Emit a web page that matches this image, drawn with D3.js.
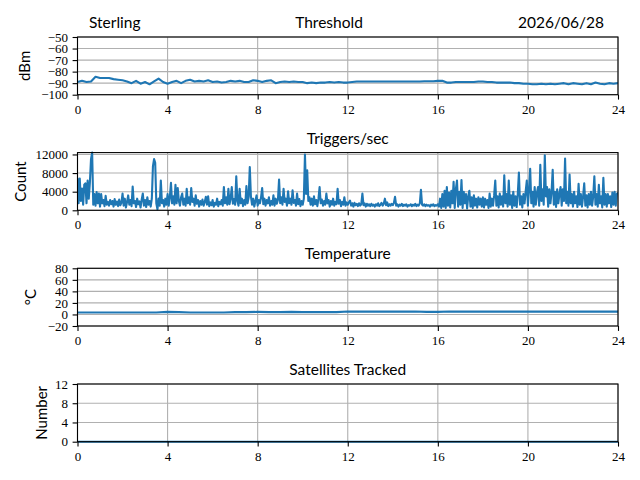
<!DOCTYPE html>
<html>
<head>
<meta charset="utf-8">
<script src="https://cdn.jsdelivr.net/npm/d3@7"></script>
<style>
  html, body { margin: 0; padding: 0; background: #fff; }
  svg { display: block; }
  svg text.tk { font-family: 'Liberation Serif', 'DejaVu Serif', serif !important; font-size: 13px !important; }
</style>
</head>
<body>
<svg id="chart" width="640" height="480"></svg>
<script>
// ---------------- DATA ----------------
const hourTicks = [0, 4, 8, 12, 16, 20, 24];

const headerLeft = "Sterling";
const headerCenter = "Threshold";
const headerRight = "2026/06/28";

const panelTitles = ["", "Triggers/sec", "Temperature", "Satellites Tracked"];
const panelYLabels = ["dBm", "Count", "°C", "Number"];

const thresholdTicks = [-50, -60, -70, -80, -90, -100];
const triggerTicks = [0, 4000, 8000, 12000];
const temperatureTicks = [80, 60, 40, 20, 0, -20];
const satelliteTicks = [0, 4, 8, 12];

// Threshold (dBm), one reading every 0.2 h from 0 to 24 h
const thresholdValues = [
  -89, -88, -89, -88.5, -84.5, -85.5, -85.5, -85.5, -86.5, -87,
  -87.5, -88.5, -90, -88, -90.5, -89, -91, -88.5, -86, -89,
  -90.5, -89, -88, -90, -88, -87, -88.5, -88, -88.5, -87.5,
  -89, -88.5, -89.5, -89, -88, -88.5, -88, -89, -89, -87.5,
  -88, -89, -88, -87.5, -90, -89, -88.5, -89, -88.5, -89,
  -89, -90, -89.5, -90, -89.5, -89.5, -89, -89.5, -89, -89.5,
  -89.5, -89, -88.5, -88.5, -88.5, -88.5, -88.5, -88.5, -88.5, -88.5,
  -88.5, -88.5, -88.5, -88.5, -88.5, -88.5, -88.5, -88.3, -88.3, -88.3,
  -88, -88, -89.5, -89.5, -89, -89, -89, -89, -89, -88.5,
  -88.5, -89, -89, -89.5, -89.5, -89.5, -89.5, -90, -90, -90.5,
  -90.5, -91, -91, -90.5, -91, -90.5, -91, -90.5, -90, -91,
  -90, -90.5, -91, -90, -91, -89.5, -90.5, -91, -90, -90.5,
  -90
];

// Triggers/sec (counts), one reading every 0.05 h from 0 to 24 h
const triggerValues = [
  // 0 h
  7000, 1500, 6800, 2000, 4700, 1200, 5500, 5800, 1500, 6400, 2500, 6000, 11000, 12400, 1200, 3500, 1000, 3900, 1500, 3600,
  // 1 h
  800, 3500, 1500, 2200, 900, 3100, 1200, 1800, 1000, 2200, 1300, 2000, 800, 2400, 1200, 1900, 900, 2300, 1100, 1600,
  // 2 h
  3600, 1000, 2500, 600, 1800, 3200, 1200, 2200, 900, 5100, 1500, 2000, 700, 2500, 1300, 1900, 600, 2300, 3600, 1000,
  // 3 h
  2200, 700, 2800, 1200, 2000, 800, 2500, 9500, 11000, 10200, 1500, 200, 2500, 1000, 6400, 1500, 2200, 800, 2500, 1200,
  // 4 h
  3500, 1000, 2800, 5900, 1500, 3000, 1200, 5500, 1500, 4800, 2000, 1000, 2800, 3600, 1200, 2500, 1000, 4600, 1500, 2800,
  // 5 h
  1200, 4800, 1800, 2500, 1000, 3200, 1400, 2200, 800, 2000, 1200, 2300, 1000, 1800, 2900, 1200, 3000, 900, 1700, 1100,
  // 6 h
  2200, 800, 1600, 1200, 2500, 900, 1800, 1300, 2200, 1000, 5000, 1500, 2800, 1200, 4600, 1300, 2500, 5000, 1400, 2400,
  // 7 h
  1200, 7300, 2000, 1000, 4600, 1500, 2500, 900, 2200, 1200, 5200, 1500, 2800, 9300, 3000, 1200, 2500, 800, 2000, 3200,
  // 8 h
  1000, 2200, 1500, 2800, 4800, 1300, 2500, 1000, 2200, 1500, 2800, 1000, 2000, 1200, 3200, 1000, 2500, 1400, 2200, 6600,
  // 9 h
  1500, 2800, 1200, 4600, 1800, 2500, 1000, 4100, 1500, 2500, 1200, 4300, 1600, 2200, 1000, 3600, 1300, 2400, 900, 2000,
  // 10 h
  1200, 2500, 12000, 3500, 8600, 2000, 2800, 1200, 2500, 1000, 3000, 1300, 2200, 900, 2500, 5000, 1500, 2300, 1000, 2000,
  // 11 h
  1200, 3600, 1500, 2200, 800, 2000, 1200, 2500, 1000, 1800, 1300, 4600, 1400, 2200, 900, 1800, 1200, 2800, 1000, 1700,
  // 12 h
  1200, 1700, 2100, 1000, 1500, 800, 1600, 1100, 1400, 900, 1500, 1000, 1300, 3600, 1100, 1500, 800, 1400, 1000, 1300,
  // 13 h
  900, 1400, 1000, 1200, 800, 1300, 1000, 1500, 900, 1200, 1600, 1000, 1400, 2500, 1100, 1700, 900, 1300, 1000, 1400,
  // 14 h
  1100, 1600, 2900, 1000, 1300, 800, 1200, 1000, 1400, 900, 1200, 1000, 1300, 800, 1100, 1000, 1300, 900, 1200, 1000,
  // 15 h
  1400, 900, 1200, 1000, 1500, 4400, 1200, 1000, 1300, 900, 1200, 1000, 1100, 800, 1200, 1000, 1300, 900, 1100, 1000,
  // 16 h
  1300, 800, 2500, 500, 3500, 800, 4200, 500, 5000, 1000, 3800, 600, 4200, 1500, 6100, 500, 4500, 6400, 800, 4000,
  // 17 h
  1200, 6500, 500, 4000, 1500, 3500, 400, 3000, 4200, 800, 2800, 500, 3200, 1000, 2500, 600, 2800, 1200, 2500, 800,
  // 18 h
  2800, 600, 2500, 1200, 2200, 500, 3600, 800, 2500, 1000, 3200, 6400, 1000, 3000, 600, 3600, 1200, 3000, 800, 7500,
  // 19 h
  1500, 3500, 800, 6400, 1200, 3200, 500, 4000, 1000, 3000, 700, 3500, 8100, 1200, 3000, 600, 3500, 1500, 4000, 6400,
  // 20 h
  1000, 4500, 8900, 1500, 4000, 800, 5000, 1200, 3800, 5000, 1000, 9800, 2000, 4500, 1200, 11800, 3000, 5000, 800, 4500,
  // 21 h
  1500, 4000, 8700, 1200, 4000, 700, 4500, 1500, 3500, 5000, 1000, 4500, 2000, 11100, 1500, 4000, 1000, 7700, 1500, 3500,
  // 22 h
  800, 4000, 1500, 3000, 700, 5700, 1200, 3500, 800, 3000, 5800, 1000, 3200, 600, 3500, 1200, 4000, 1000, 3000, 7300,
  // 23 h
  1200, 3500, 800, 5500, 1500, 3000, 600, 7000, 1200, 3500, 800, 3500, 1500, 3000, 700, 3800, 1200, 4000, 1000, 3500,
  // 24 h
  3800
];

// Temperature (°C), one reading every 0.5 h from 0 to 24 h
const temperatureValues = [
  3.5, 3.5, 3.5, 3.5, 3.5, 3.5, 3.5, 3.5, 4.5, 4.0,
  3.5, 3.5, 3.5, 3.5, 4.0, 4.0, 4.5, 4.0, 4.0, 4.5,
  4.0, 4.0, 4.0, 4.0, 5.0, 5.0, 5.0, 5.0, 5.0, 5.0,
  5.0, 4.5, 4.5, 5.0, 5.0, 5.0, 5.0, 5.0, 5.0, 5.0,
  5.0, 5.0, 5.0, 5.0, 5.0, 5.0, 5.0, 5.0, 5.0
];

// Satellites tracked, one reading every hour from 0 to 24 h
const satelliteValues = [
  0, 0, 0, 0, 0, 0, 0, 0, 0, 0, 0, 0, 0,
  0, 0, 0, 0, 0, 0, 0, 0, 0, 0, 0, 0
];

// ---------------- DRAWING ----------------
const svg = d3.select("#chart");
const left = 77.5, right = 618;
const panelTops = [37, 152.6, 268.3, 384];
const panelH = 57.7;
const color = "#1f77b4";
const textFont = "Lato, 'Open Sans', sans-serif";

const x = d3.scaleLinear().domain([0, 24]).range([left, right]);

function hoursFor(values) {
  const n = values.length;
  return values.map((v, i) => ({ h: 24 * i / (n - 1), v }));
}

const panels = [
  { values: thresholdValues, domain: [-100, -50], ticks: thresholdTicks, ylabelX: 24 },
  { values: triggerValues, domain: [0, 12400], ticks: triggerTicks, ylabelX: 20 },
  { values: temperatureValues, domain: [-20, 80], ticks: temperatureTicks, ylabelX: 30 },
  { values: satelliteValues, domain: [0, 12], ticks: satelliteTicks, ylabelX: 41 }
];

function fmt(v) {
  return v < 0 ? "\u2212" + Math.abs(v) : String(v);
}

function styleAxis(sel) {
  sel.attr("font-family", null).attr("font-size", null);
  sel.select(".domain").remove();
  sel.selectAll(".tick line").attr("stroke", "#000").attr("stroke-width", 1.1);
  sel.selectAll(".tick text").attr("fill", "#000").classed("tk", true);
}

panels.forEach((p, i) => {
  const top = panelTops[i], bottom = top + panelH;
  const y = d3.scaleLinear().domain(p.domain).range([bottom, top]);
  const g = svg.append("g");

  const clipId = "clip" + i;
  svg.append("clipPath").attr("id", clipId)
    .append("rect").attr("x", left).attr("y", top - 1.5)
    .attr("width", right - left).attr("height", panelH + 3);

  // grid
  g.selectAll(".gx").data(hourTicks).enter().append("line")
    .attr("x1", d => x(d)).attr("x2", d => x(d))
    .attr("y1", top).attr("y2", bottom)
    .attr("stroke", "#b0b0b0").attr("stroke-width", 1.1);
  g.selectAll(".gy").data(p.ticks).enter().append("line")
    .attr("x1", left).attr("x2", right)
    .attr("y1", d => y(d)).attr("y2", d => y(d))
    .attr("stroke", "#b0b0b0").attr("stroke-width", 1.1);

  // data line
  const line = d3.line().x(d => x(d.h)).y(d => y(d.v));
  g.append("path").datum(hoursFor(p.values))
    .attr("d", line)
    .attr("fill", "none")
    .attr("stroke", color)
    .attr("stroke-width", 2.1)
    .attr("stroke-linejoin", "round")
    .attr("clip-path", "url(#" + clipId + ")");

  // frame
  g.append("rect").attr("x", left).attr("y", top)
    .attr("width", right - left).attr("height", panelH)
    .attr("fill", "none").attr("stroke", "#000").attr("stroke-width", 1.1);

  // x axis
  const xAxis = d3.axisBottom(x).tickValues(hourTicks).tickSize(4.9).tickPadding(5).tickFormat(d => String(d));
  g.append("g").attr("transform", `translate(0,${bottom})`).call(xAxis).call(styleAxis);

  // y axis
  const yAxis = d3.axisLeft(y).tickValues(p.ticks).tickSize(4.9).tickPadding(4.5).tickFormat(fmt);
  g.append("g").attr("transform", `translate(${left},0)`).call(yAxis).call(styleAxis);

  // y label
  svg.append("text")
    .style("font-family", textFont).style("font-size", "15px").attr("fill", "#000")
    .attr("transform", `translate(${p.ylabelX},${top + panelH / 2}) rotate(-90)`)
    .attr("text-anchor", "middle")
    .attr("dominant-baseline", "central")
    .text(panelYLabels[i]);

  // panel title
  if (panelTitles[i]) {
    svg.append("text")
      .style("font-family", textFont).style("font-size", "15.5px").attr("fill", "#000")
      .attr("x", (left + right) / 2).attr("y", top - 9)
      .attr("text-anchor", "middle")
      .text(panelTitles[i]);
  }
});

// header row
function header(txt, xp, anchor) {
  svg.append("text")
    .style("font-family", textFont).style("font-size", "15.5px").attr("fill", "#000")
    .attr("x", xp).attr("y", 28).attr("text-anchor", anchor).text(txt);
}
header(headerLeft, 89, "start");
header(headerCenter, 329, "middle");
header(headerRight, 604, "end");
</script>
</body>
</html>
